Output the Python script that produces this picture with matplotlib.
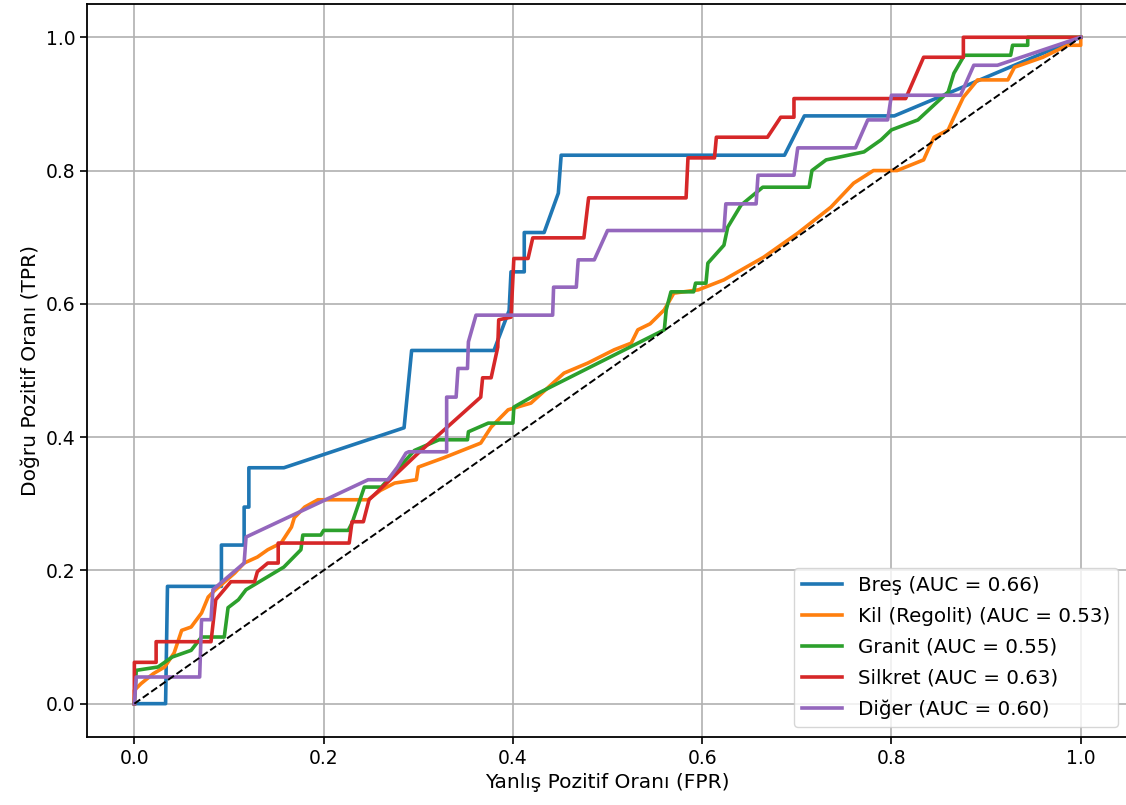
import matplotlib.pyplot as plt

# ROC points (fpr, tpr)
bres_fpr = [0.0, 0.033, 0.035, 0.092, 0.092, 0.116, 0.116, 0.121, 0.121, 0.158, 0.285, 0.285, 0.293, 0.293, 0.38, 0.396, 0.398, 0.412, 0.412, 0.433, 0.448, 0.451, 0.687, 0.708, 0.803, 0.86, 1.0]
bres_tpr = [0.0, 0.0, 0.176, 0.176, 0.238, 0.238, 0.295, 0.295, 0.354, 0.354, 0.414, 0.414, 0.53, 0.53, 0.53, 0.59, 0.648, 0.648, 0.707, 0.707, 0.766, 0.823, 0.823, 0.882, 0.882, 0.916, 1.0]

kil_fpr = [0.0, 0.0, 0.007, 0.02, 0.032, 0.042, 0.05, 0.06, 0.071, 0.078, 0.085, 0.106, 0.116, 0.13, 0.141, 0.155, 0.166, 0.169, 0.18, 0.194, 0.247, 0.26, 0.275, 0.298, 0.3, 0.327, 0.366, 0.377, 0.395, 0.419, 0.454, 0.479, 0.507, 0.525, 0.532, 0.545, 0.56, 0.57, 0.596, 0.623, 0.665, 0.701, 0.736, 0.76, 0.781, 0.806, 0.834, 0.84, 0.845, 0.86, 0.866, 0.876, 0.891, 0.923, 0.93, 0.96, 0.986, 1.0, 1.0]
kil_tpr = [0.0, 0.02, 0.03, 0.045, 0.055, 0.076, 0.11, 0.115, 0.136, 0.16, 0.17, 0.196, 0.211, 0.22, 0.231, 0.241, 0.265, 0.279, 0.295, 0.306, 0.306, 0.32, 0.331, 0.336, 0.355, 0.369, 0.391, 0.415, 0.441, 0.451, 0.496, 0.511, 0.531, 0.541, 0.561, 0.57, 0.591, 0.616, 0.621, 0.636, 0.67, 0.706, 0.745, 0.781, 0.8, 0.8, 0.816, 0.835, 0.85, 0.861, 0.88, 0.91, 0.936, 0.936, 0.955, 0.97, 0.988, 0.988, 1.0]

granit_fpr = [0.0, 0.002, 0.025, 0.04, 0.06, 0.071, 0.095, 0.099, 0.11, 0.118, 0.158, 0.176, 0.178, 0.197, 0.2, 0.226, 0.23, 0.243, 0.261, 0.27, 0.296, 0.322, 0.352, 0.353, 0.374, 0.4, 0.401, 0.427, 0.56, 0.562, 0.567, 0.591, 0.593, 0.604, 0.606, 0.623, 0.627, 0.641, 0.664, 0.713, 0.716, 0.731, 0.771, 0.789, 0.8, 0.828, 0.847, 0.86, 0.866, 0.877, 0.926, 0.928, 0.944, 0.944, 1.0]
granit_tpr = [0.0, 0.05, 0.055, 0.07, 0.08, 0.1, 0.1, 0.144, 0.156, 0.171, 0.205, 0.231, 0.253, 0.253, 0.26, 0.26, 0.271, 0.325, 0.325, 0.339, 0.38, 0.396, 0.396, 0.408, 0.421, 0.421, 0.445, 0.466, 0.561, 0.591, 0.618, 0.618, 0.631, 0.631, 0.661, 0.688, 0.715, 0.748, 0.775, 0.775, 0.8, 0.816, 0.828, 0.846, 0.861, 0.876, 0.901, 0.918, 0.946, 0.973, 0.973, 0.988, 0.988, 1.0, 1.0]

silkret_fpr = [0.0, 0.0, 0.023, 0.023, 0.081, 0.086, 0.102, 0.127, 0.13, 0.141, 0.152, 0.152, 0.227, 0.23, 0.242, 0.248, 0.3, 0.366, 0.368, 0.377, 0.384, 0.385, 0.398, 0.401, 0.416, 0.421, 0.475, 0.48, 0.583, 0.585, 0.613, 0.615, 0.669, 0.683, 0.697, 0.697, 0.815, 0.834, 0.876, 0.876, 1.0]
silkret_tpr = [0.0, 0.062, 0.062, 0.093, 0.093, 0.156, 0.183, 0.183, 0.198, 0.211, 0.211, 0.241, 0.241, 0.273, 0.273, 0.306, 0.376, 0.46, 0.489, 0.489, 0.535, 0.576, 0.58, 0.668, 0.668, 0.699, 0.699, 0.759, 0.759, 0.819, 0.819, 0.85, 0.85, 0.88, 0.88, 0.908, 0.908, 0.97, 0.97, 1.0, 1.0]

diger_fpr = [0.0, 0.002, 0.069, 0.071, 0.081, 0.083, 0.116, 0.118, 0.247, 0.268, 0.278, 0.287, 0.29, 0.33, 0.33, 0.34, 0.342, 0.352, 0.353, 0.361, 0.442, 0.443, 0.467, 0.469, 0.486, 0.5, 0.623, 0.625, 0.657, 0.659, 0.697, 0.701, 0.762, 0.775, 0.796, 0.8, 0.873, 0.887, 0.912, 1.0]
diger_tpr = [0.0, 0.04, 0.04, 0.126, 0.126, 0.171, 0.211, 0.25, 0.336, 0.336, 0.355, 0.376, 0.378, 0.378, 0.46, 0.46, 0.503, 0.503, 0.543, 0.583, 0.583, 0.625, 0.625, 0.666, 0.666, 0.71, 0.71, 0.75, 0.75, 0.793, 0.793, 0.834, 0.834, 0.876, 0.876, 0.913, 0.913, 0.958, 0.958, 1.0]

curves = [
    ("Breş", 0.66, bres_fpr, bres_tpr),
    ("Kil (Regolit)", 0.53, kil_fpr, kil_tpr),
    ("Granit", 0.55, granit_fpr, granit_tpr),
    ("Silkret", 0.63, silkret_fpr, silkret_tpr),
    ("Diğer", 0.60, diger_fpr, diger_tpr),
]

plt.rcParams['font.size'] = 13.5

fig = plt.figure(figsize=(11.26, 8.05), dpi=100)
# right spine falls just outside the picture, as in the reference crop
ax = fig.add_axes([0.0773, 0.0845, 0.9245, 0.9106])

for name, auc, fpr, tpr in curves:
    ax.plot(fpr, tpr, lw=2.6, label=f"{name} (AUC = {auc:.2f})")

ax.plot([0, 1], [0, 1], 'k--', lw=1.4)

ax.set_xlabel("Yanlış Pozitif Oranı (FPR)", fontsize=14.5)
ax.set_ylabel("Doğru Pozitif Oranı (TPR)", fontsize=14.5)
ax.tick_params(length=5, width=1.2)
for s in ax.spines.values():
    s.set_linewidth(1.3)
ax.legend(loc='lower right', fontsize=14.3, labelspacing=0.6)
ax.grid(True, lw=1.2)

fig.savefig("out.png", dpi=100)
